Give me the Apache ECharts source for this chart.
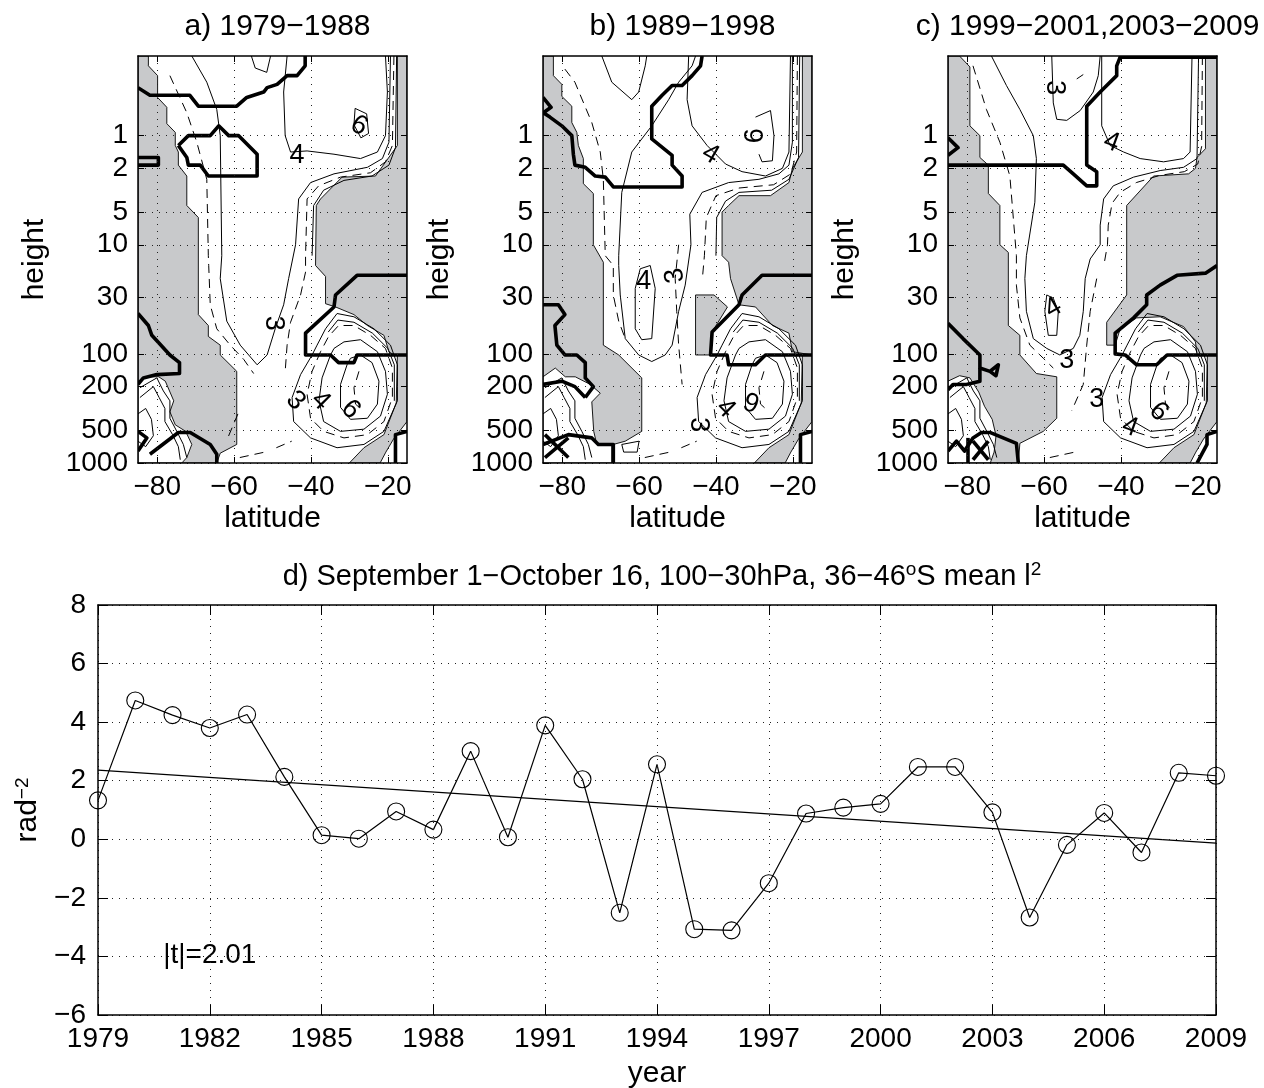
<!DOCTYPE html>
<html>
<head>
<meta charset="utf-8">
<script src="https://cdn.jsdelivr.net/npm/echarts@6/dist/echarts.min.js"></script>
<style>
html, body { margin: 0; padding: 0; background: #fff; }
#chart { width: 1264px; height: 1088px; }
</style>
</head>
<body>
<div id="chart"></div>
<script>
// ---- panel d: time series ----
const years = [1979, 1980, 1981, 1982, 1983, 1984, 1985, 1986, 1987, 1988, 1989, 1990, 1991, 1992, 1993,
    1994, 1995, 1996, 1997, 1998, 1999, 2000, 2001, 2002, 2003, 2004, 2005, 2006, 2007, 2008, 2009];
const meanI2 = [1.33, 4.74, 4.24, 3.80, 4.26, 2.13, 0.14, 0.02, 0.95, 0.33, 3.01, 0.07, 3.89, 2.05, -2.51,
    2.56, -3.07, -3.11, -1.50, 0.88, 1.08, 1.21, 2.47, 2.47, 0.92, -2.67, -0.19, 0.90, -0.45, 2.27, 2.17];
const trendYears = [1979, 2009];
const trendValues = [2.36, -0.13];
const tPoint = [1980.75, -3.95];
const tLabel = '|t|=2.01';

// ---- panels a-c: latitude / log10(pressure hPa) ----
const latTicks = [-80, -60, -40, -20];
const pressureTicks = [1, 2, 5, 10, 30, 100, 200, 500, 1000];
const panelTitles = ['a) 1979\u22121988', 'b) 1989\u22121998', 'c) 1999\u22122001,2003\u22122009'];

// shapes are lists of [latitude, log10(p)]
const blobSolid = [
    [[-39.7, 2.01], [-42.7, 2.19], [-44.9, 2.40], [-44.5, 2.62], [-40.1, 2.77], [-33.2, 2.86], [-26.2, 2.83], [-21, 2.71], [-17.5, 2.43], [-17.5, 2.10], [-19.3, 1.92], [-23.6, 1.77], [-28.8, 1.66], [-33.2, 1.63], [-36.2, 1.77], [-38.4, 1.92], [-39.7, 2.01]],
    [[-18.3, 2.43], [-18.3, 2.10], [-20, 1.95], [-24, 1.81], [-28.8, 1.71], [-33, 1.69], [-35.5, 1.8]],
    [[-34.9, 2.01], [-37.1, 2.22], [-37.9, 2.43], [-36.7, 2.62], [-32.3, 2.71], [-26.2, 2.69], [-21.9, 2.57], [-20.1, 2.37], [-20.6, 2.16], [-22.7, 1.98], [-27.1, 1.87], [-31.4, 1.89], [-34, 1.95], [-34.9, 2.01]],
    [[-30.6, 2.10], [-32.3, 2.28], [-32.3, 2.49], [-29.7, 2.60], [-25.3, 2.59], [-22.7, 2.46], [-22.3, 2.25], [-24.1, 2.08], [-27.1, 2.01], [-29.7, 2.04], [-30.6, 2.10]]
];
const blobDash = [
    [[-37.5, 1.98], [-39.7, 2.16], [-41, 2.37], [-40.1, 2.59], [-36.7, 2.71], [-31.4, 2.77], [-25.3, 2.74], [-21, 2.62], [-18.8, 2.40], [-18.8, 2.13], [-20.6, 1.95], [-24.5, 1.83], [-28.8, 1.74], [-32.8, 1.74], [-35.4, 1.84], [-37.5, 1.98]],
    [[-27.5, 2.16], [-28.8, 2.31], [-28.4, 2.46], [-26.2, 2.53]]
];
const cornerJag = [
    [[-84.5, 2.31], [-80.1, 2.22], [-78.4, 2.34], [-76.7, 2.43], [-76.7, 2.59], [-74.9, 2.71], [-73.2, 2.83], [-72.3, 2.95]],
    [[-84.5, 2.40], [-81, 2.30], [-79.5, 2.40], [-78, 2.50], [-78, 2.62], [-76, 2.74], [-74.5, 2.85], [-74, 2.97]],
    [[-85, 2.55], [-83, 2.5], [-81.5, 2.6], [-81, 2.75], [-83, 2.85], [-85, 2.8]]
];
const lowerRightGray = [[-17.5, 2.01], [-15, 2.01], [-15, 2.62], [-18.5, 2.78], [-20.5, 2.9], [-22, 3.0], [-30, 3.0], [-26.2, 2.86], [-21, 2.74], [-17.8, 2.45]];

// panel a
const grayA = [
    [[-85, -0.73], [-82.3, -0.73], [-82.3, -0.64], [-79.9, -0.55], [-79.9, -0.35], [-77.5, -0.26], [-77.5, -0.11], [-75.3, -0.03], [-75.3, 0.09], [-74.5, 0.15], [-74.5, 0.27], [-72.3, 0.37], [-72.3, 0.64], [-69.3, 0.75], [-69.3, 1.64], [-66.7, 1.74], [-66.7, 1.84], [-63.6, 1.92], [-63.6, 2.01], [-59.3, 2.16], [-59.3, 2.83], [-63.6, 2.91], [-64.5, 3.0], [-85, 3.0]],
    [[-15, -0.73], [-17.5, -0.73], [-17.5, 0.09], [-23.2, 0.37], [-31.9, 0.38], [-37.5, 0.58], [-38.6, 0.64], [-38.8, 1.19], [-36.2, 1.29], [-36.2, 1.54], [-33.6, 1.57], [-28.8, 1.64], [-25.3, 1.74], [-21, 1.83], [-19.7, 1.98], [-18.4, 2.01], [-15, 2.01]],
    lowerRightGray
];
const holeA = [
    [[-85, 2.25], [-82.6, 2.21], [-79.6, 2.21], [-77.9, 2.25], [-75.7, 2.43], [-76.7, 2.53], [-75.3, 2.65], [-72.6, 2.71], [-71, 2.83], [-72.3, 2.95], [-73.6, 3.0], [-85, 3.0]]
];
const thickA = [
    [[-85, -0.44], [-81.9, -0.37], [-71.5, -0.37], [-69.3, -0.27], [-59.3, -0.27], [-56.7, -0.35], [-52.3, -0.40], [-51.4, -0.44], [-48.8, -0.47], [-46.2, -0.55], [-43.6, -0.55], [-41.5, -0.64], [-41.5, -0.73]],
    [[-74.5, 0.09], [-71.9, 0], [-66.2, 0], [-64, -0.09], [-61.4, 0], [-58.8, 0], [-54, 0.17], [-54, 0.37], [-66.7, 0.37], [-68.8, 0.27], [-71.9, 0.27], [-72.3, 0.20], [-74.5, 0.09]],
    [[-85, 0.2], [-79.7, 0.2], [-79.7, 0.27], [-85, 0.27]],
    [[-15, 1.28], [-28, 1.28], [-33.6, 1.46], [-34, 1.57], [-41.4, 1.81], [-41.4, 2.01], [-34.9, 2.01], [-32.8, 2.08], [-28.8, 2.08], [-28, 2.01], [-15, 2.01]],
    [[-85, 1.63], [-82.3, 1.74], [-81.4, 1.83], [-76.7, 2.01], [-74.2, 2.08], [-74.2, 2.18], [-80.1, 2.19], [-83.6, 2.22], [-85, 2.28]],
    [[-81.9, 2.92], [-74.5, 2.72], [-71.4, 2.72], [-66.2, 2.83], [-64.5, 2.92], [-64.5, 3.0]],
    [[-85, 2.71], [-82.7, 2.77], [-85, 2.89]],
    [[-18, 3.0], [-18, 2.74], [-15, 2.71]]
];
const solidA = [
    [[-71, -0.73], [-67.1, -0.49], [-64.5, -0.24], [-63.6, 0], [-63.2, 1.10], [-63.6, 1.31], [-61.9, 1.70], [-58.4, 1.92], [-54, 2.10], [-51.4, 2.01], [-49.3, 1.77], [-47.1, 1.55], [-45.8, 1.31], [-44, 1.0], [-43.2, 0.58], [-40.1, 0.43], [-34, 0.35], [-25.3, 0.29], [-21.4, 0.21], [-19.7, 0.06], [-19.3, -0.73]],
    [[-46.2, -0.73], [-47.1, -0.40], [-46.7, 0], [-45.3, 0.15], [-41, 0.14], [-34, 0.17], [-27.1, 0.21], [-22.7, 0.15], [-20.6, 0], [-20.1, -0.40], [-20.6, -0.73]],
    [[-39.7, 1.10], [-39.3, 0.64], [-36.7, 0.50], [-31.4, 0.41], [-24.1, 0.37], [-19.7, 0.27], [-18, 0.11], [-17.7, -0.73]],
    [[-28.5, -0.25], [-25.5, -0.2], [-25, -0.02], [-27, 0.02], [-28.8, -0.1], [-28.5, -0.25]],
    [[-55.5, -0.73], [-54.5, -0.62], [-51.5, -0.58], [-50.5, -0.73]]
];
const dashA = [
    [[-76.7, -0.55], [-72.3, -0.21], [-69.7, 0.06], [-67.1, 0.40], [-66.7, 1.10], [-66.6, 1.19], [-66.2, 1.55], [-64.5, 1.77], [-61, 1.92], [-57.5, 2.05], [-54.9, 2.18]],
    [[-18.4, -0.73], [-18.8, 0.09], [-20.6, 0.24], [-24.5, 0.34], [-32.3, 0.38], [-38, 0.46], [-41, 0.58], [-41.4, 1.10], [-41.4, 1.25], [-42.7, 1.46], [-45.3, 1.71], [-46.2, 1.92], [-46.7, 2.16]],
    [[-59, 2.55], [-62, 2.8]],
    [[-58.5, 2.95], [-52, 2.9]],
    [[-49, 2.86], [-45, 2.8]]
];
const labelsA = [[-49.7, 1.72, '3'], [-44, 2.43, '3'], [-37.5, 2.43, '4'], [-29.7, 2.51, '6'], [-43.6, 0.18, '4'], [-27.5, -0.09, '6']];
const turnsA = [-90, -45, -45, -45, 0, -30];

// panel b
const grayB = [
    [[-85, -0.73], [-82.3, -0.73], [-82.3, -0.55], [-80.1, -0.47], [-80.1, -0.36], [-77.5, -0.27], [-77.5, -0.12], [-76.2, -0.03], [-75.8, 0.09], [-74.5, 0.21], [-74.5, 0.44], [-71.9, 0.53], [-71.9, 1.0], [-69.3, 1.16], [-69.3, 1.92], [-65.3, 2.01], [-59.3, 2.22], [-59.3, 2.71], [-63.6, 2.80], [-66.7, 2.83], [-66.7, 3.0], [-85, 3.0]],
    [[-15, -0.73], [-17.5, -0.73], [-17.5, 0.15], [-20.1, 0.30], [-21, 0.43], [-25.8, 0.55], [-34, 0.55], [-36.7, 0.64], [-38.4, 0.70], [-38.4, 1.10], [-36.7, 1.16], [-36.2, 1.31], [-34, 1.55], [-29.7, 1.57], [-25.3, 1.74], [-21, 1.81], [-20.1, 1.98], [-15, 2.01]],
    [[-45.3, 1.46], [-40.5, 1.46], [-37, 1.57], [-41, 1.80], [-41.4, 2.01], [-45.3, 2.01]],
    lowerRightGray
];
const holeB = [
    [[-85, 2.21], [-81.8, 2.13], [-79.2, 2.21], [-76.6, 2.21], [-72.7, 2.28], [-70.1, 2.36], [-72.3, 2.44], [-71.8, 2.71], [-71, 2.83], [-67.1, 2.83], [-67.1, 3.0], [-85, 3.0]]
];
const thickB = [
    [[-85, -0.35], [-82.9, -0.26], [-84.9, -0.21], [-83.2, -0.17], [-80.1, -0.09], [-77.5, 0], [-77.1, 0.17], [-76.7, 0.27], [-74, 0.29], [-71.4, 0.37], [-68.8, 0.38], [-66.7, 0.47], [-48.8, 0.47], [-48.8, 0.37], [-51.4, 0.27], [-51.4, 0.18], [-56.7, 0.03], [-56.7, -0.27], [-54, -0.37], [-51.4, -0.46], [-48.8, -0.46], [-46.2, -0.55], [-44, -0.64], [-43.6, -0.73]],
    [[-15, 1.28], [-28, 1.28], [-33.2, 1.46], [-34, 1.55], [-41, 1.80], [-41.4, 2.01], [-37.1, 2.01], [-36.7, 2.10], [-29.7, 2.10], [-27.1, 2.01], [-15, 2.01]],
    [[-85, 1.55], [-81, 1.55], [-79.3, 1.64], [-81.9, 1.74], [-81.4, 1.92], [-79.3, 2.01], [-76.2, 2.01], [-74, 2.08], [-74, 2.22], [-71.9, 2.30], [-74, 2.40]],
    [[-85, 2.28], [-80.1, 2.25], [-76.7, 2.30], [-74, 2.40]],
    [[-85, 2.83], [-78.4, 2.74], [-72.3, 2.77], [-70.6, 2.83], [-66.7, 2.83], [-66.7, 3.0]],
    [[-84.5, 2.74], [-78.4, 2.95]],
    [[-84.5, 2.95], [-78.4, 2.77]],
    [[-18, 3.0], [-18, 2.74], [-15, 2.71]]
];
const solidB = [
    [[-69.7, -0.73], [-67.1, -0.49], [-61.9, -0.33], [-60.1, -0.40], [-58.4, -0.64], [-58, -0.73]],
    [[-45.3, -0.73], [-46.2, -0.64], [-49.7, -0.49], [-52.3, -0.33], [-56.7, -0.09], [-61.9, 0.15], [-64.5, 0.52], [-65.3, 1.10], [-65.3, 1.19], [-64.9, 1.46], [-63.6, 1.86], [-60.1, 2.01], [-56.7, 2.07], [-53.2, 2.01], [-51.4, 1.92], [-49.7, 1.61], [-48, 1.37], [-46.5, 1.0], [-46.8, 0.72], [-43.6, 0.52], [-36.7, 0.43], [-28.8, 0.40], [-23.6, 0.35], [-21, 0.27], [-20.1, 0.06], [-20.1, -0.73]],
    [[-47.1, -0.73], [-47.5, -0.33], [-46.2, -0.09], [-42.3, 0.09], [-37.5, 0.26], [-33.2, 0.33], [-27.1, 0.37], [-22.7, 0.30], [-21, 0.15], [-20.6, -0.73]],
    [[-29.7, -0.17], [-25.8, -0.23], [-24.9, 0], [-25.3, 0.23], [-28, 0.24], [-28.8, 0.17]],
    [[-40, 1.1], [-39.8, 0.75], [-37.5, 0.6], [-34, 0.52], [-25.5, 0.5], [-21, 0.40], [-18.5, 0.2], [-18.2, -0.73]],
    [[-61, 1.40], [-59.7, 1.22], [-57.1, 1.19], [-55.8, 1.40], [-56.7, 1.86], [-59.3, 1.87], [-61, 1.77], [-61, 1.40]],
    [[-64.5, 2.83], [-60, 2.8], [-60.5, 2.9], [-64, 2.9], [-64.5, 2.83]]
];
const dashB = [
    [[-79.3, -0.61], [-76.7, -0.49], [-72.3, -0.12], [-70.1, 0.15], [-69.3, 0.40], [-68.8, 1.1], [-66.7, 1.19], [-66.7, 1.46], [-65.3, 1.70], [-63.6, 1.86]],
    [[-18.8, -0.73], [-19, 0.15], [-20.5, 0.35], [-25, 0.45], [-34, 0.48], [-40, 0.55], [-42.5, 0.75], [-43, 1.1], [-43.5, 1.3]],
    [[-49.7, 1.0], [-50.6, 1.31], [-50.2, 1.61], [-49.7, 1.92], [-48.8, 2.28]],
    [[-58.5, 2.95], [-52, 2.9]],
    [[-49, 2.86], [-45, 2.8]]
];
const labelsB = [[-41.4, 0.17, '4'], [-29.7, 0, '6'], [-58.8, 1.34, '4'], [-50.6, 1.28, '3'], [-44.5, 2.65, '3'], [-37.5, 2.50, '4'], [-30.6, 2.43, '6']];
const turnsB = [-30, 90, 0, 100, -90, -45, 160];

// panel c
const grayC = [
    [[-85, -0.73], [-82, -0.73], [-79.3, -0.63], [-79.3, -0.09], [-76.7, 0], [-76.7, 0.20], [-74.5, 0.27], [-74.5, 0.53], [-71.5, 0.64], [-71.5, 1.0], [-69.3, 1.07], [-69.3, 1.74], [-66.3, 1.83], [-66.3, 2.01], [-62, 2.18], [-56.7, 2.21], [-56.7, 2.59], [-60.2, 2.71], [-66.3, 2.82], [-66.7, 3.0], [-85, 3.0]],
    [[-15, -0.73], [-18, -0.73], [-18, 0.12], [-20.2, 0.20], [-20.6, 0.30], [-22.4, 0.35], [-31.5, 0.37], [-38.5, 0.64], [-38.5, 1.46], [-43.7, 1.71], [-43.7, 1.92], [-41.5, 1.92], [-40.2, 1.77], [-35.9, 1.67], [-29.8, 1.66], [-23.7, 1.75], [-20.6, 1.89], [-20.2, 2.01], [-15, 2.01]],
    lowerRightGray
];
const holeC = [
    [[-85, 2.25], [-82, 2.2], [-79.3, 2.22], [-77, 2.35], [-75.5, 2.48], [-73.5, 2.6], [-72.5, 2.75], [-73, 2.9], [-74, 3.0], [-85, 3.0]]
];
const thickC = [
    [[-15, -0.72], [-40.2, -0.72], [-41.1, -0.64], [-41.1, -0.55], [-45.4, -0.40], [-48.9, -0.27], [-48.9, 0.27], [-46.3, 0.33], [-46.3, 0.46], [-48.9, 0.46], [-52.4, 0.35], [-55, 0.27], [-85, 0.27]],
    [[-85, 0.02], [-82.4, 0.11], [-85, 0.18]],
    [[-15, 1.19], [-18, 1.26], [-25.4, 1.28], [-29.8, 1.37], [-33.3, 1.46], [-33.3, 1.55], [-36.7, 1.67], [-41.5, 1.81], [-41.5, 2.0], [-38.9, 2.01], [-35.9, 2.10], [-30.7, 2.10], [-28, 2.01], [-15, 2.01]],
    [[-85, 1.72], [-81.1, 1.86], [-76.7, 2.01], [-76.7, 2.13], [-74.1, 2.16], [-71.9, 2.10], [-72.5, 2.2], [-74.1, 2.16]],
    [[-76.7, 2.13], [-76.7, 2.25], [-80.2, 2.28], [-83.7, 2.28], [-85, 2.33]],
    [[-85, 2.89], [-82.8, 2.80], [-80.7, 2.89], [-78.5, 2.77], [-76.3, 2.72], [-74.1, 2.72], [-67.2, 2.82], [-66.7, 3.0]],
    [[-79.8, 2.77], [-79.8, 3.0]],
    [[-78.5, 2.8], [-74.5, 2.97]],
    [[-78.5, 2.97], [-74.5, 2.8]],
    [[-20.2, 3.0], [-17.6, 2.83], [-17.6, 2.74], [-15, 2.71]]
];
const solidC = [
    [[-58, -0.73], [-57.6, -0.30], [-56.7, -0.15], [-54.1, -0.14], [-50.6, -0.23], [-47.2, -0.40], [-45.9, -0.55], [-45.4, -0.73]],
    [[-73.7, -0.73], [-69.8, -0.46], [-66.3, -0.24], [-62.8, 0], [-62, 0.21], [-62.4, 0.61], [-64.6, 1.1], [-65, 1.31], [-64.6, 1.61], [-62.8, 1.86], [-59.3, 1.95], [-55.9, 2.01], [-52.4, 1.95], [-50.7, 1.83], [-49.8, 1.61], [-49.3, 1.31], [-48, 1.13], [-45.4, 1.0], [-45.4, 0.82], [-44.5, 0.58], [-42, 0.46], [-36.7, 0.38], [-29.8, 0.32], [-23.7, 0.29], [-20.2, 0.21], [-19.8, -0.73]],
    [[-45, -0.73], [-45, -0.09], [-42.8, 0.09], [-39.3, 0.15], [-35, 0.21], [-28.9, 0.24], [-23.7, 0.21], [-22, 0.15], [-21.5, -0.73]],
    [[-59.3, 1.46], [-57.6, 1.49], [-56.3, 1.61], [-56.7, 1.83], [-58.9, 1.83], [-59.8, 1.61], [-59.3, 1.46]]
];
const dashC = [
    [[-78.5, -0.64], [-75, -0.24], [-71.5, 0.06], [-68.9, 0.37], [-67.2, 1.1], [-67.2, 1.37], [-66.3, 1.67], [-63.7, 1.92], [-60.2, 2.04], [-57.6, 2.13]],
    [[-18.8, -0.73], [-19, 0.1], [-20, 0.26], [-23.5, 0.33], [-30, 0.365], [-36, 0.43], [-40.2, 0.52], [-42.3, 0.62], [-43.3, 0.82], [-43.5, 1.0], [-44.5, 1.2]],
    [[-46.3, 1.31], [-48, 1.61], [-48.9, 1.92], [-49.8, 2.28], [-52.8, 2.52]],
    [[-51.5, -0.52], [-49.8, -0.56]],
    [[-58.5, 2.95], [-52, 2.9]]
];
const labelsC = [[-57.2, -0.44, '3'], [-42.4, 0.06, '4'], [-57.6, 1.58, '4'], [-54.1, 2.06, '3'], [-46.3, 2.42, '3'], [-37.6, 2.67, '4'], [-30.2, 2.53, '6']];
const turnsC = [-90, -20, 30, 0, 0, -20, -45];

// ---- layout / style ----
const FONT = '"Liberation Sans", Arial, Helvetica, sans-serif';
const GRAY = '#c8c9cb';
const panelLefts = [138, 543, 948];
const minus = v => String(v).replace('-', '\u2212');

const panels = [
    { gray: grayA, hole: holeA, thick: thickA, solid: solidA, dash: dashA, labels: labelsA, turns: turnsA },
    { gray: grayB, hole: holeB, thick: thickB, solid: solidB, dash: dashB, labels: labelsB, turns: turnsB },
    { gray: grayC, hole: holeC, thick: thickC, solid: solidC, dash: dashC, labels: labelsC, turns: turnsC }
];

const chart = echarts.init(document.getElementById('chart'), null, { renderer: 'canvas' });

const dotted = { show: true, lineStyle: { color: '#222', width: 1, type: [1, 6] } };
const blackLine = { show: true, onZero: false, lineStyle: { color: '#000', width: 1.5 } };
const txt = { color: '#000', fontSize: 28, fontFamily: FONT };
const nameTxt = { color: '#000', fontSize: 30, fontFamily: FONT };

function shapeSeries(k, list, make) {
    return {
        type: 'custom', xAxisIndex: 2 * k, yAxisIndex: 2 * k,
        clip: true, silent: true,
        data: list.map(s => s[0]),
        renderItem: (params, api) => make(list[params.dataIndex].map(p => api.coord(p)))
    };
}
const fillArea = fill => pts => ({
    type: 'polygon', shape: { points: pts },
    style: { fill: fill, stroke: '#000', lineWidth: 0.9 }
});
const strokeLine = (w, dash) => pts => ({
    type: 'polyline', shape: { points: pts },
    style: { fill: null, stroke: '#000', lineWidth: w, lineDash: dash || null, lineJoin: 'round' }
});
function textSeries(k, list, turns, size, align) {
    return {
        type: 'custom', xAxisIndex: 2 * k, yAxisIndex: 2 * k, clip: true, silent: true,
        data: list.map(l => [l[0], l[1]]),
        renderItem: (params, api) => {
            const l = list[params.dataIndex];
            const c = api.coord([l[0], l[1]]);
            return {
                type: 'text', x: c[0], y: c[1], rotation: turns[params.dataIndex] * Math.PI / 180,
                style: {
                    text: l[2], fontSize: size, fontFamily: FONT, fill: '#000',
                    align: align, verticalAlign: 'middle', textAlign: align, textVerticalAlign: 'middle'
                }
            };
        }
    };
}

const grids = [];
const xAxes = [];
const yAxes = [];
const series = [];
const titles = [];

const logTicks = pressureTicks.map(p => Math.log10(p));

panels.forEach((pn, k) => {
    grids.push({ left: panelLefts[k], top: 56, width: 269, height: 407, outerBoundsMode: 'none' });
    titles.push({
        text: panelTitles[k], left: panelLefts[k] + 134.5, top: 7, textAlign: 'center',
        textStyle: { fontSize: 30, fontWeight: 'normal', color: '#000', fontFamily: FONT }
    });
    xAxes.push({
        gridIndex: k, type: 'value', min: -85, max: -15, position: 'bottom', z: 5,
        name: 'latitude', nameLocation: 'middle', nameGap: 41, nameTextStyle: nameTxt,
        axisLine: blackLine,
        axisTick: { show: true, inside: true, length: 6, customValues: latTicks, lineStyle: { color: '#000' } },
        axisLabel: Object.assign({ customValues: latTicks, formatter: minus, margin: 10 }, txt),
        splitLine: dotted
    });
    xAxes.push({
        gridIndex: k, type: 'value', min: -85, max: -15, position: 'top', z: 5,
        axisLine: blackLine,
        axisTick: { show: true, inside: true, length: 6, customValues: latTicks, lineStyle: { color: '#000' } },
        axisLabel: { show: false }, splitLine: { show: false }
    });
    yAxes.push({
        gridIndex: k, type: 'value', min: -0.73, max: 3, inverse: true, position: 'left', z: 5,
        name: 'height', nameLocation: 'middle', nameGap: 88, nameRotate: 90, nameTextStyle: nameTxt,
        axisLine: blackLine,
        axisTick: { show: true, inside: true, length: 6, customValues: logTicks, lineStyle: { color: '#000' } },
        axisLabel: Object.assign({ customValues: logTicks, formatter: v => String(Math.round(Math.pow(10, v))), margin: 10 }, txt),
        splitLine: dotted
    });
    yAxes.push({
        gridIndex: k, type: 'value', min: -0.73, max: 3, inverse: true, position: 'right', z: 5,
        axisLine: blackLine,
        axisTick: { show: true, inside: true, length: 6, customValues: logTicks, lineStyle: { color: '#000' } },
        axisLabel: { show: false }, splitLine: { show: false }
    });

    series.push(shapeSeries(k, pn.gray, fillArea(GRAY)));
    series.push(shapeSeries(k, pn.hole, fillArea('#fff')));
    series.push(shapeSeries(k, pn.dash.concat(blobDash), strokeLine(1, [9, 6])));
    series.push(shapeSeries(k, pn.solid.concat(blobSolid, cornerJag), strokeLine(1)));
    series.push(shapeSeries(k, pn.thick, strokeLine(3.6)));
    series.push(textSeries(k, pn.labels, pn.turns, 27, 'center'));
});

// ---- panel d ----
grids.push({ left: 98, top: 605, width: 1118, height: 410, outerBoundsMode: 'none' });
titles.push({
    text: 'd) September 1\u2212October 16, 100\u221230hPa, 36\u221246{sup|o}S mean l{sup|2}',
    left: 657, top: 555, textAlign: 'center',
    textStyle: {
        fontSize: 29, fontWeight: 'normal', color: '#000', fontFamily: FONT, lineHeight: 34,
        rich: { sup: { fontSize: 19, fontFamily: FONT, color: '#000', verticalAlign: 'top', lineHeight: 18 } }
    }
});
xAxes.push({
    gridIndex: 3, type: 'value', min: 1979, max: 2009, interval: 3, position: 'bottom', z: 5,
    name: 'year', nameLocation: 'middle', nameGap: 44, nameTextStyle: nameTxt,
    axisLine: blackLine,
    axisTick: { show: true, inside: true, length: 10, lineStyle: { color: '#000' } },
    axisLabel: Object.assign({ margin: 10, formatter: v => String(v) }, txt),
    splitLine: dotted
});
xAxes.push({
    gridIndex: 3, type: 'value', min: 1979, max: 2009, interval: 3, position: 'top', z: 5,
    axisLine: blackLine,
    axisTick: { show: true, inside: true, length: 10, lineStyle: { color: '#000' } },
    axisLabel: { show: false }, splitLine: { show: false }
});
yAxes.push({
    gridIndex: 3, type: 'value', min: -6, max: 8, interval: 2, position: 'left', z: 5,
    name: 'rad{sup|\u22122}', nameLocation: 'middle', nameGap: 48, nameRotate: 90,
    nameTextStyle: Object.assign({
        rich: { sup: { fontSize: 19, fontFamily: FONT, color: '#000', verticalAlign: 'top', lineHeight: 18 } }
    }, nameTxt),
    axisLine: blackLine,
    axisTick: { show: true, inside: true, length: 10, lineStyle: { color: '#000' } },
    axisLabel: Object.assign({ formatter: minus, margin: 12 }, txt),
    splitLine: dotted
});
yAxes.push({
    gridIndex: 3, type: 'value', min: -6, max: 8, interval: 2, position: 'right', z: 5,
    axisLine: blackLine,
    axisTick: { show: true, inside: true, length: 10, lineStyle: { color: '#000' } },
    axisLabel: { show: false }, splitLine: { show: false }
});

series.push({
    type: 'line', xAxisIndex: 6, yAxisIndex: 6, silent: true,
    data: trendYears.map((y, i) => [y, trendValues[i]]),
    showSymbol: false, symbol: 'none',
    lineStyle: { color: '#000', width: 1.2 }
});
series.push({
    type: 'line', xAxisIndex: 6, yAxisIndex: 6, silent: true,
    data: years.map((y, i) => [y, meanI2[i]]),
    symbol: 'circle', symbolSize: 17,
    itemStyle: { color: 'rgba(0,0,0,0)', borderColor: '#000', borderWidth: 1.1 },
    lineStyle: { color: '#000', width: 1.2 }
});
series.push(textSeries(3, [[tPoint[0], tPoint[1], tLabel]], [0], 28, 'left'));

chart.setOption({
    animation: false,
    backgroundColor: '#fff',
    textStyle: { fontFamily: FONT },
    title: titles,
    grid: grids,
    xAxis: xAxes,
    yAxis: yAxes,
    series: series
});
</script>
</body>
</html>
